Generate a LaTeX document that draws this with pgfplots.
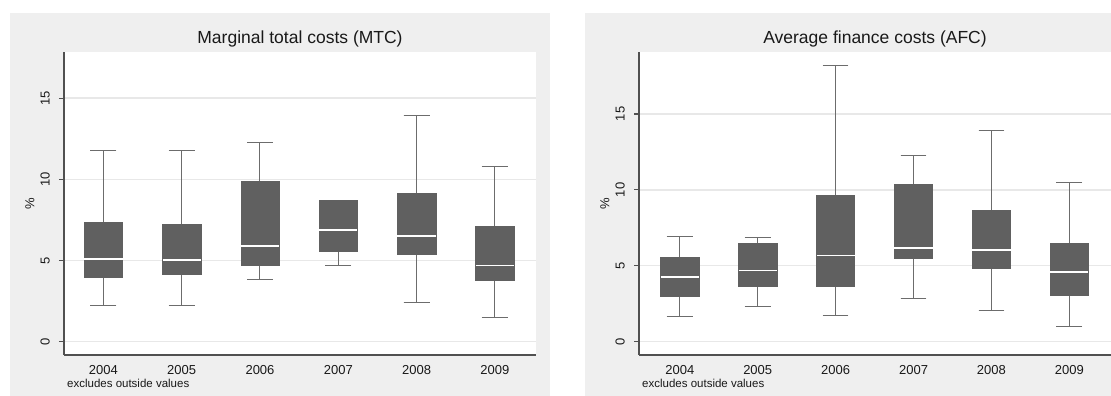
\documentclass[border=0pt]{standalone}
\usepackage{pgfplots}
\pgfplotsset{compat=1.18}
\usepackage{pgfplotstable}
\usepgfplotslibrary{statistics}
\usepackage{fontspec}
\setmainfont{Liberation Sans}

\definecolor{panelbg}{RGB}{239,239,239}
\definecolor{gridgray}{RGB}{232,232,232}
\definecolor{boxfill}{RGB}{96,96,96}
\definecolor{whiskgray}{RGB}{108,108,108}
\definecolor{axisgray}{RGB}{80,80,80}
\definecolor{textgray}{RGB}{25,25,25}

% Prepared box-plot statistics, one row per year (2004-2009)
\pgfplotstableread{
lw   lq   med  uq    uw
2.22 4.00 5.09 7.33  11.77
2.22 4.17 5.01 7.23  11.77
3.86 4.72 5.89 9.86  12.26
4.68 5.56 6.88 8.71  8.73
2.40 5.40 6.53 9.12  13.96
1.52 3.78 4.70 7.10  10.82
}\mtcdata

\pgfplotstableread{
lw   lq   med  uq    uw
1.63 3.01 4.26 5.54  6.92
2.29 3.67 4.68 6.48  6.84
1.71 3.67 5.67 9.65  18.18
2.86 5.49 6.15 10.40 12.29
2.07 4.84 6.04 8.64  13.89
0.97 3.08 4.59 6.48  10.46
}\afcdata

\pgfplotsset{
  % boxfromtable={<table>}{<row>}: one prepared box plot from a table row
  boxfromtable/.code 2 args={%
    \pgfplotstablegetelem{#2}{lw}\of{#1}\let\bxLW\pgfplotsretval
    \pgfplotstablegetelem{#2}{lq}\of{#1}\let\bxLQ\pgfplotsretval
    \pgfplotstablegetelem{#2}{med}\of{#1}\let\bxMED\pgfplotsretval
    \pgfplotstablegetelem{#2}{uq}\of{#1}\let\bxUQ\pgfplotsretval
    \pgfplotstablegetelem{#2}{uw}\of{#1}\let\bxUW\pgfplotsretval
    \pgfmathtruncatemacro\bxPOS{#2+1}%
    \edef\bxdo{\noexpand\pgfplotsset{boxplot prepared={%
      draw direction=y,
      lower whisker=\bxLW, lower quartile=\bxLQ, median=\bxMED,
      upper quartile=\bxUQ, upper whisker=\bxUW, draw position=\bxPOS}}}%
    \bxdo
  },
  statapanel/.style={
    scale only axis, width=472pt, height=303pt,
    anchor=south west, clip=false,
    axis x line*=bottom, axis y line*=left,
    axis line style={draw=axisgray, line width=1.4pt},
    axis background/.style={fill=white},
    xtick={1,2,3,4,5,6},
    xticklabels={2004,2005,2006,2007,2008,2009},
    x tick style={draw=none},
    xticklabel style={anchor=base, yshift=-14.5pt, text=textgray,
      font=\fontsize{13}{15}\selectfont},
    ytick={0,5,10,15},
    tick align=outside, major tick length=5pt,
    y tick style={draw=axisgray, line width=1.2pt},
    yticklabel style={xshift=-9pt, rotate=90, anchor=south, inner sep=0pt,
      text=textgray, font=\fontsize{13}{15}\selectfont},
    /pgf/number format/assume math mode=true,
    ymajorgrids, grid style={draw=gridgray, line width=1.5pt},
    ylabel={\%},
    every axis y label/.style={at={(axis description cs:-0.072,0.5)},
      rotate=90, anchor=center, text=textgray,
      font=\fontsize{13}{15}\selectfont},
    title style={at={(axis description cs:0.5,1)}, anchor=base,
      yshift=2.7pt, text=textgray, font=\fontsize{17.5}{20}\selectfont},
  },
  statabox/.style={
    draw=boxfill, fill=boxfill,
    boxplot/draw direction=y,
    boxplot/box extend=0.49,
    boxplot/whisker extend=0.33,
    boxplot/every box/.style={draw=boxfill, fill=boxfill, line width=0.5pt},
    boxplot/every whisker/.style={draw=whiskgray, line width=1pt},
    boxplot/every median/.style={draw=white, line width=1.8pt},
  },
}

\begin{document}
\begin{tikzpicture}[x=1pt, y=1pt]
\path[use as bounding box] (0,0) rectangle (1111,396);
% panel backgrounds
\fill[panelbg] (10,0) rectangle (550,383);
\fill[panelbg] (585,0) rectangle (1111,383);

\begin{axis}[statapanel, at={(64pt,41pt)},
    title={Marginal total costs (MTC)},
    xmin=0.497, xmax=6.525, ymin=-0.82, ymax=17.85]
  \pgfplotsinvokeforeach{0,...,5}{
    \addplot[statabox, boxfromtable={\mtcdata}{#1}] coordinates {};
  }
  \node[anchor=west, inner sep=0pt, text=textgray,
    font=\fontsize{11.5}{13}\selectfont, xshift=3pt, yshift=-28pt]
    at (rel axis cs:0,0) {excludes outside values};
\end{axis}

\begin{axis}[statapanel, at={(639pt,41pt)},
    title={Average finance costs (AFC)},
    xmin=0.476, xmax=6.535, ymin=-0.88, ymax=19.08]
  \pgfplotsinvokeforeach{0,...,5}{
    \addplot[statabox, boxfromtable={\afcdata}{#1}] coordinates {};
  }
  \node[anchor=west, inner sep=0pt, text=textgray,
    font=\fontsize{11.5}{13}\selectfont, xshift=3pt, yshift=-28pt]
    at (rel axis cs:0,0) {excludes outside values};
\end{axis}
\end{tikzpicture}
\end{document}
